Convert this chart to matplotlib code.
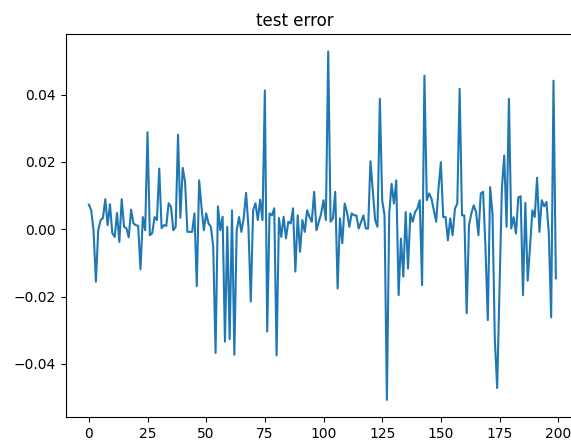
import numpy as np
import matplotlib
matplotlib.use("Agg")
import matplotlib.pyplot as plt

title = "test error"

# test error per step (steps 0-199)
err_000_049 = [
    0.0073, 0.0056, -0.0003, -0.0156, -0.0003, 0.0027, 0.0033, 0.0089, 0.0012, 0.0074,
    -0.0012, -0.0023, 0.0048, -0.0038, 0.0089, 0.0007, 0.0003, -0.0024, 0.0058, 0.0017,
    0.0012, 0.0010, -0.0119, 0.0036, -0.0003, 0.0288, -0.0018, -0.0012, 0.0036, 0.0027,
    0.0180, 0.0003, 0.0012, 0.0010, 0.0077, 0.0066, -0.0003, 0.0007, 0.0281, 0.0034,
    0.0182, 0.0140, -0.0008, -0.0008, -0.0008, 0.0047, -0.0169, 0.0145, 0.0066, -0.0003,
]
err_050_099 = [
    0.0047, 0.0017, 0.0007, -0.0052, -0.0368, 0.0068, -0.0003, 0.0037, -0.0334, 0.0007,
    -0.0327, 0.0056, -0.0373, -0.0003, 0.0036, -0.0008, 0.0033, 0.0108, 0.0007, -0.0215,
    0.0056, 0.0077, 0.0027, 0.0088, 0.0027, 0.0412, -0.0304, 0.0047, 0.0041, 0.0062,
    -0.0375, 0.0033, -0.0023, 0.0037, -0.0027, 0.0022, 0.0017, 0.0062, -0.0126, 0.0041,
    -0.0067, 0.0027, -0.0008, 0.0056, 0.0037, 0.0022, 0.0111, -0.0003, 0.0022, 0.0047,
]
err_100_149 = [
    0.0086, 0.0027, 0.0528, 0.0022, 0.0032, 0.0111, -0.0176, 0.0032, -0.0042, 0.0076,
    0.0051, 0.0007, 0.0047, 0.0041, 0.0041, 0.0002, 0.0022, 0.0041, 0.0002, 0.0002,
    0.0202, 0.0116, 0.0027, 0.0007, 0.0387, 0.0086, 0.0041, -0.0507, 0.0047, 0.0135,
    0.0076, 0.0145, -0.0196, -0.0028, -0.0141, 0.0051, -0.0117, 0.0047, 0.0022, 0.0051,
    0.0061, 0.0086, -0.0166, 0.0456, 0.0086, 0.0106, 0.0091, 0.0056, 0.0022, 0.0121,
]
err_150_199 = [
    0.0199, 0.0036, 0.0036, -0.0033, 0.0032, -0.0018, 0.0061, 0.0076, 0.0417, 0.0041,
    0.0041, -0.0250, 0.0012, 0.0047, 0.0071, 0.0051, -0.0018, 0.0106, 0.0111, -0.0052,
    -0.0270, 0.0125, 0.0047, -0.0329, -0.0472, -0.0170, 0.0121, 0.0219, 0.0007, 0.0387,
    0.0002, 0.0036, -0.0013, 0.0094, 0.0098, -0.0196, 0.0078, -0.0153, -0.0052, 0.0056,
    0.0036, 0.0153, -0.0008, 0.0086, 0.0068, 0.0081, -0.0013, -0.0262, 0.0441, -0.0146,
]

test_error = np.array(err_000_049 + err_050_099 + err_100_149 + err_150_199)

W, H = 571, 441
fig = plt.figure(figsize=(W / 100, H / 100), dpi=100)
# axes extends slightly past the right edge (the reference is cropped there)
left, right, top, bottom = 65.5, 579.2, 34.0, 417.3
ax = fig.add_axes([left / W, 1 - bottom / H, (right - left) / W, (bottom - top) / H])
ax.plot(test_error)
ax.set_title(title, x=(295 - left) / (right - left))

fig.savefig("out.png", dpi=100)
